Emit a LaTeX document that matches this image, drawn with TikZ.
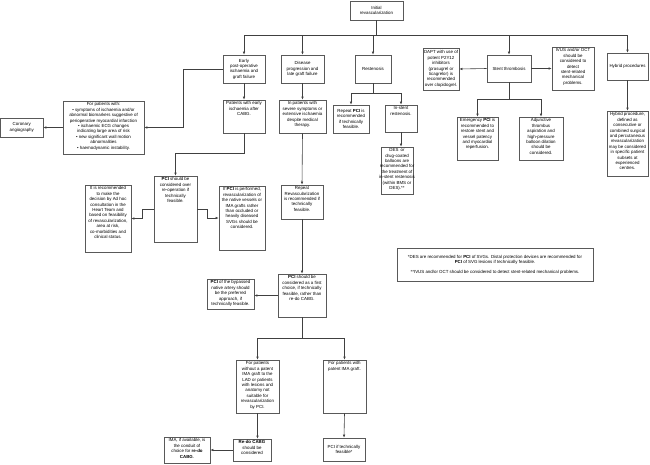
\documentclass[tikz,border=0pt]{standalone}
\usepackage{fontspec}
\setmainfont{Liberation Sans}
\usetikzlibrary{arrows.meta}
\newcommand\tbox[6]{%
 \pgfmathsetmacro\bxw{#4-#2}\pgfmathsetmacro\bxh{#5-#3}%
 \node[frame, minimum width=\bxw pt, minimum height=\bxh pt] (#1) at ({(#2+#4)/2},{(#3+#5)/2}) {};
 \node[txt, anchor=north] at ([yshift=-1.8pt]#1.north) {#6};}
\newcommand\cbox[6]{%
 \pgfmathsetmacro\bxw{#4-#2}\pgfmathsetmacro\bxh{#5-#3}%
 \node[frame, minimum width=\bxw pt, minimum height=\bxh pt] (#1) at ({(#2+#4)/2},{(#3+#5)/2}) {};
 \node[txt] at (#1.center) {#6};}
\begin{document}
\begin{tikzpicture}[x=1pt,y=-1pt,
  frame/.style={draw=black!65, line width=0.7pt, fill=white, inner sep=0pt},
  txt/.style={align=center, font=\fontsize{4.4}{5.4}\selectfont, inner sep=0pt},
  conn/.style={draw=black!75, line width=0.6pt},
  arr/.style={conn, -{Latex[length=3pt,width=2.6pt]}}]
\useasboundingbox (0,0) rectangle (650,464);

% top row
\cbox{init}{350}{1}{403}{20}{Initial\\revascularization}
\cbox{early}{223}{55}{265}{83}{Early\\post-operative\\ischaemia and\\graft failure}
\cbox{disease}{281}{55}{324}{83}{Disease\\progression and\\late graft failure}
\cbox{resten}{355}{55}{391}{83}{Restenosis}
\cbox{stent}{487}{55}{531}{82}{Stent thrombosis}
\cbox{hybrid}{607}{53}{648}{80}{Hybrid procedures}

% left branch
\tbox{forpat}{63}{101}{144}{154}{For patients with:\\• symptoms of ischaemia and/or\\abnormal biomarkers suggestive of\\perioperative myocardial infarction\\• ischaemic ECG changes\\indicating large area of risk\\• new significant wall motion\\abnormalities\\• haemodynamic instability.}
\cbox{coron}{0.5}{118}{43}{137}{Coronary\\angiography}
\tbox{earlyisch}{223}{100}{265}{133}{Patients with early\\ischaemia after\\CABG.}
\tbox{pcireop}{154}{176}{197}{242}{\textbf{PCI} should be\\considered over\\re-operation if\\technically\\feasible.}
\tbox{itis}{85}{185}{131}{252}{It is recommended\\to make the\\decision by Ad hoc\\consultation in the\\Heart Team and\\based on feasibility\\of revascularization,\\area at risk,\\co-morbidities and\\clinical status.}
\tbox{ifpci}{219}{186}{265}{250}{If \textbf{PCI} is performed,\\revascularization of\\the native vessels or\\IMA grafts rather\\than occluded or\\heavily diseased\\SVGs should be\\considered.}

% disease progression branch
\tbox{severe}{279}{100}{326}{133}{In patients with\\severe symptoms or\\extensive ischaemia\\despite medical\\therapy.}
\tbox{repeatrev}{281}{185}{323}{219}{Repeat\\Revascularization\\is recommended if\\technically\\feasible.}
\tbox{first}{278}{274}{326}{317}{\textbf{PCI} should be\\considered as a first\\choice, if technically\\feasible, rather than\\re-do CABG.}
\tbox{native}{207}{279}{254}{309}{\textbf{PCI} of the bypassed\\native artery should\\be the preferred\\approach, if\\technically feasible.}
\tbox{without}{236}{360}{279}{413}{For patients\\without a patent\\IMA graft to the\\LAD or patients\\with lesions and\\anatomy not\\suitable for\\revascularization\\by PCI.}
\tbox{withpat}{323}{360}{366}{413}{For patients with\\patent IMA graft.}
\tbox{redo}{233}{439}{271}{461}{\textbf{Re-do CABG}\\should be\\considered}
\tbox{ima}{164}{437}{210}{463}{IMA, if available, is\\the conduit of\\choice for \textbf{re-do}\\\textbf{CABG}.}
\cbox{pcitf}{323}{438}{365}{461}{PCI if technically\\feasible*}

% restenosis branch
\cbox{reppci}{333}{105}{369}{133}{Repeat \textbf{PCI} is\\recommended\\if technically\\feasible.}
\tbox{instent}{385}{105}{417}{132}{In-stent\\restenosis.}
\tbox{des}{381}{147}{413}{194}{DES\enspace or\\drug-coated\\balloons are\\recommended for\\the treatment of\\in-stent restenosis\\(within BMS or\\DES).**}

% stent thrombosis branch
\cbox{dapt}{423}{48}{459}{90}{DAPT with use of\\potent P2Y12\\inhibitors\\(prasugrel or\\ticagrelor) is\\recommended\\over clopidogrel.}
\tbox{ivus}{552}{47}{594}{90}{IVUS and/or OCT\\should be\\considered to\\detect\\stent-related\\mechanical\\problems.}
\tbox{emerg}{457}{117}{498}{160}{Emergency \textbf{PCI} is\\recommended to\\restore stent and\\vessel patency\\and myocardial\\reperfusion.}
\tbox{adj}{519}{117}{563}{160}{Adjunctive\\thrombus\\aspiration and\\high-pressure\\balloon dilation\\should be\\considered.}

% hybrid branch
\tbox{hybdesc}{607}{111}{648}{176}{Hybrid procedure,\\defined as\\consecutive or\\combined surgical\\and percutaneous\\revascularization\\may be considered\\in specific patient\\subsets at\\experienced\\centres.}

% footnote
\cbox{foot}{397}{248}{593}{281}{*DES are recommended for \textbf{PCI} of SVGs. Distal protection devices are recommended for\\\textbf{PCI} of SVG lesions if technically feasible.\\[4pt]**IVUS and/or OCT should be considered to detect stent-related mechanical problems.}

% connectors
\coordinate (bus) at (376.5,35);
\draw[conn] (init.south) -- (bus);
\draw[conn] (early.north |- bus) -- (hybrid.north |- bus);
\foreach \n in {early,disease,resten,stent,hybrid}
  \draw[arr] (\n.north |- bus) -- (\n.north);

\coordinate (e1) at (183,69);
\draw[arr] (early.west) -- (e1) |- (forpat.east);
\draw[arr] (forpat.west) -- (coron.east);
\draw[arr] (early.south) -- (earlyisch.north);
\coordinate (e2) at (244,153);
\draw[arr] (earlyisch.south) -- (e2) -| (pcireop.north);
\coordinate (p1) at (154,209);
\coordinate (p2) at (197,209);
\draw[arr] (p1) -- (142,209) |- (itis.east);
\draw[arr] (p2) -- (207,209) |- (ifpci.west);

\draw[arr] (disease.south) -- (severe.north);
\draw[arr] (severe.south) -- (repeatrev.north);
\draw[arr] (repeatrev.south) -- (first.north);
\draw[arr] (first.west) -- (first.west -| native.east);
\coordinate (f1) at (302,338);
\draw[conn] (first.south) -- (f1);
\draw[conn] (without.north |- f1) -- (withpat.north |- f1);
\draw[arr] (without.north |- f1) -- (without.north);
\draw[arr] (withpat.north |- f1) -- (withpat.north);
\draw[arr] (without.south) -- (without.south |- redo.north);
\draw[arr] (redo.west) -- (ima.east);
\draw[arr] (withpat.south) -- (pcitf.north);

\coordinate (r1) at (373,93);
\draw[conn] (resten.south) -- (r1);
\draw[conn] (reppci.north |- r1) -- (instent.north |- r1);
\draw[arr] (reppci.north |- r1) -- (reppci.north);
\draw[arr] (instent.north |- r1) -- (instent.north);
\draw[arr] (instent.south) -- (instent.south |- des.north);

\draw[arr] (stent.west) -- (dapt.east);
\draw[arr] (stent.east) -- (ivus.west);
\coordinate (s1) at (509,99);
\draw[conn] (stent.south) -- (s1);
\draw[conn] (emerg.north |- s1) -- (adj.north |- s1);
\draw[arr] (emerg.north |- s1) -- (emerg.north);
\draw[arr] (adj.north |- s1) -- (adj.north);
\draw[arr] (hybrid.south) -- (hybdesc.north);
\end{tikzpicture}
\end{document}
